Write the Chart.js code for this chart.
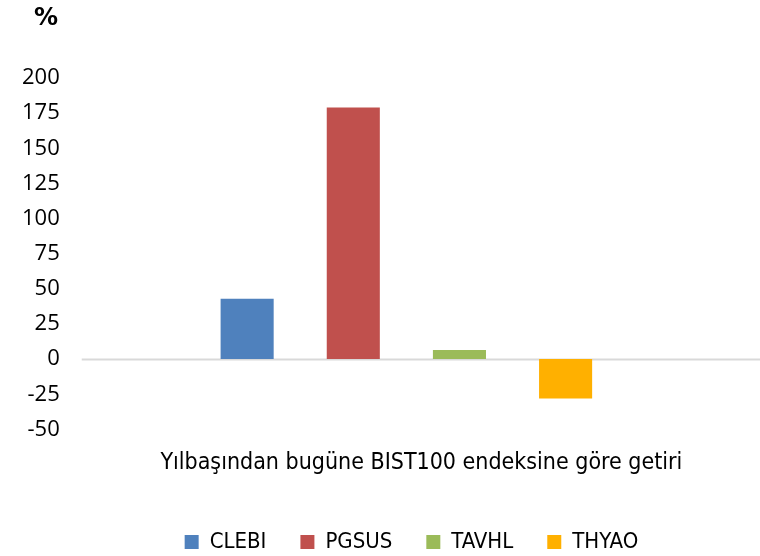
<!DOCTYPE html>
<html>
<head>
<meta charset="utf-8">
<script src="https://cdn.jsdelivr.net/npm/chart.js@4/dist/chart.umd.min.js"></script>
<style>
  html, body { margin: 0; padding: 0; background: #fff; }
  #wrap { width: 760px; height: 556px; position: relative; }
</style>
</head>
<body>
<div id="wrap"><canvas id="c"></canvas></div>
<script>
'use strict';

// ── Data ──────────────────────────────────
const categories = ['Yılbaşından bugüne BIST100 endeksine göre getiri'];
const seriesNames = ['CLEBI', 'PGSUS', 'TAVHL', 'THYAO'];
const seriesValues = [[43], [179], [6.5], [-28]];
const seriesColors = ['#4F81BD', '#C0504D', '#9BBB59', '#FFB000'];
const yTicks = [-50, -25, 0, 25, 50, 75, 100, 125, 150, 175, 200];

const labelFont = "'DejaVu Sans Condensed', 'DejaVu Sans', sans-serif";
const tickFont  = "'Open Sans', sans-serif";

// zero line across the whole width, "%" unit, legend nudged right
const extras = {
  id: 'extras',
  afterLayout(chart) {
    chart.legend.left += 46;
    chart.legend.right += 46;
  },
  beforeDatasetsDraw(chart) {
    const { ctx, chartArea, scales } = chart;
    const y0 = Math.round(scales.y.getPixelForValue(0)) + 0.5;
    ctx.save();
    ctx.strokeStyle = '#D9D9D9';
    ctx.lineWidth = 2;
    ctx.beginPath();
    ctx.moveTo(chartArea.left, y0);
    ctx.lineTo(chart.width, y0);
    ctx.stroke();
    ctx.restore();
  },
  afterDraw(chart) {
    const { ctx } = chart;
    ctx.save();
    ctx.font = "bold 24px 'DejaVu Sans', sans-serif";
    ctx.fillStyle = '#000';
    ctx.textBaseline = 'top';
    ctx.fillText('%', 34, 7);
    ctx.restore();
  }
};

new Chart(document.getElementById('c').getContext('2d'), {
  type: 'bar',
  data: {
    labels: categories,
    datasets: seriesNames.map((name, i) => ({
      label: name,
      data: seriesValues[i],
      backgroundColor: seriesColors[i],
      borderWidth: 0,
      categoryPercentage: 0.654,
      barPercentage: 0.5
    }))
  },
  options: {
    responsive: true, maintainAspectRatio: false, animation: false,
    layout: { padding: { top: 78, right: 29, left: 0, bottom: -7 } },
    plugins: {
      legend: {
        position: 'bottom',
        labels: {
          boxWidth: 14, boxHeight: 14, padding: 34,
          color: '#000',
          font: { family: labelFont, size: 22 }
        }
      },
      tooltip: { enabled: false }
    },
    scales: {
      x: {
        grid: { display: false, drawTicks: false },
        border: { display: false },
        ticks: {
          color: '#000', padding: 20, labelOffset: 15,
          font: { family: labelFont, size: 23 }
        }
      },
      y: {
        min: -50, max: 200,
        afterBuildTicks: axis => { axis.ticks = yTicks.map(v => ({ value: v })); },
        grid: { display: false, drawTicks: false },
        border: { display: false },
        ticks: {
          color: '#000', padding: 22,
          font: { family: tickFont, size: 22 }
        }
      }
    }
  },
  plugins: [extras]
});
</script>
</body>
</html>
